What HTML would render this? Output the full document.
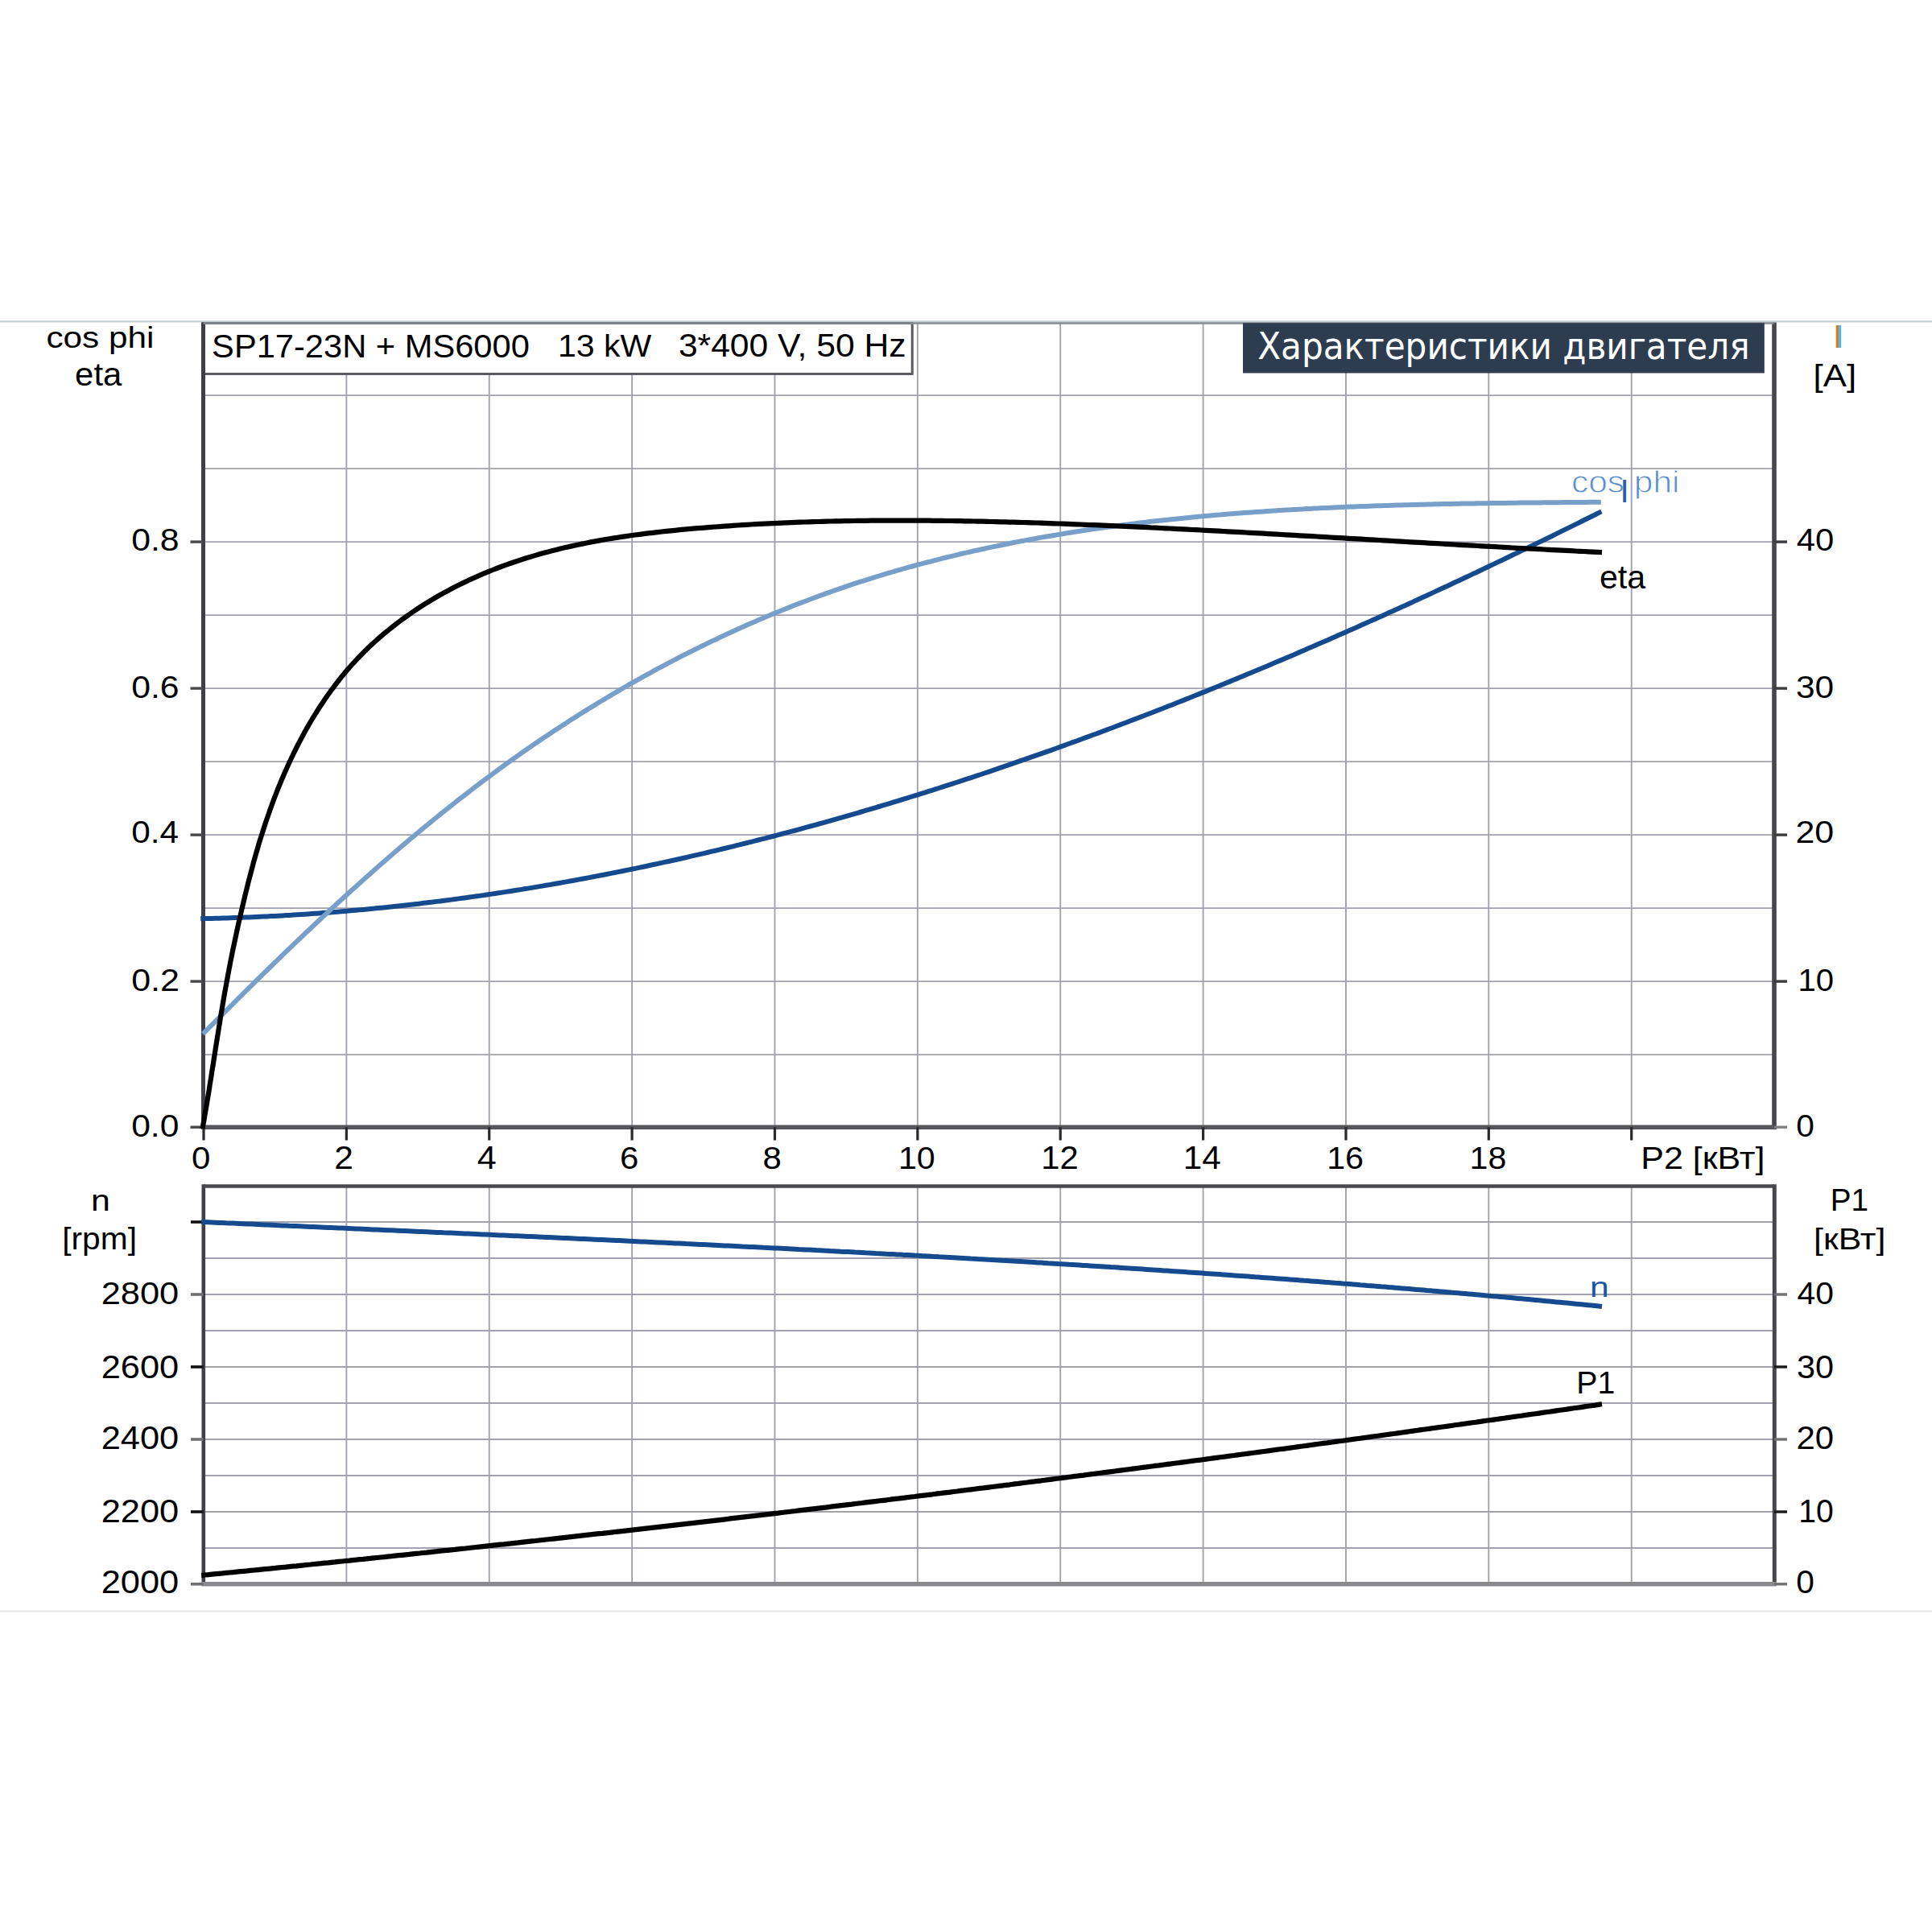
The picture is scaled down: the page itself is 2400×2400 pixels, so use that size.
<!DOCTYPE html>
<html lang="ru"><head><meta charset="utf-8"><title>Характеристики двигателя</title>
<style>
html,body{margin:0;padding:0;background:#fff;}
body{width:2400px;height:2400px;overflow:hidden;font-family:"Liberation Sans", sans-serif;}
svg{display:block;}
text{font-family:"Liberation Sans", sans-serif;}
text.dj{font-family:"DejaVu Sans Condensed", "DejaVu Sans", "Liberation Sans", sans-serif;}
</style></head><body>
<svg width="2400" height="2400" viewBox="0 0 2400 2400">
<rect x="0" y="398.3" width="2400" height="2.2" fill="#c5cdd1"/>
<rect x="0" y="2000.5" width="2400" height="2" fill="#e3e5e6"/>
<line x1="430.37" y1="401.50" x2="430.37" y2="1400.20" stroke="#a1a2ae" stroke-width="1.9" />
<line x1="607.74" y1="401.50" x2="607.74" y2="1400.20" stroke="#a1a2ae" stroke-width="1.9" />
<line x1="785.11" y1="401.50" x2="785.11" y2="1400.20" stroke="#a1a2ae" stroke-width="1.9" />
<line x1="962.48" y1="401.50" x2="962.48" y2="1400.20" stroke="#a1a2ae" stroke-width="1.9" />
<line x1="1139.85" y1="401.50" x2="1139.85" y2="1400.20" stroke="#a1a2ae" stroke-width="1.9" />
<line x1="1317.22" y1="401.50" x2="1317.22" y2="1400.20" stroke="#a1a2ae" stroke-width="1.9" />
<line x1="1494.59" y1="401.50" x2="1494.59" y2="1400.20" stroke="#a1a2ae" stroke-width="1.9" />
<line x1="1671.96" y1="401.50" x2="1671.96" y2="1400.20" stroke="#a1a2ae" stroke-width="1.9" />
<line x1="1849.33" y1="401.50" x2="1849.33" y2="1400.20" stroke="#a1a2ae" stroke-width="1.9" />
<line x1="2026.70" y1="401.50" x2="2026.70" y2="1400.20" stroke="#a1a2ae" stroke-width="1.9" />
<line x1="252.50" y1="1310.10" x2="2204.00" y2="1310.10" stroke="#a1a2ae" stroke-width="1.9" />
<line x1="252.50" y1="1219.10" x2="2204.00" y2="1219.10" stroke="#a1a2ae" stroke-width="1.9" />
<line x1="252.50" y1="1128.10" x2="2204.00" y2="1128.10" stroke="#a1a2ae" stroke-width="1.9" />
<line x1="252.50" y1="1037.10" x2="2204.00" y2="1037.10" stroke="#a1a2ae" stroke-width="1.9" />
<line x1="252.50" y1="946.10" x2="2204.00" y2="946.10" stroke="#a1a2ae" stroke-width="1.9" />
<line x1="252.50" y1="855.10" x2="2204.00" y2="855.10" stroke="#a1a2ae" stroke-width="1.9" />
<line x1="252.50" y1="764.10" x2="2204.00" y2="764.10" stroke="#a1a2ae" stroke-width="1.9" />
<line x1="252.50" y1="673.10" x2="2204.00" y2="673.10" stroke="#a1a2ae" stroke-width="1.9" />
<line x1="252.50" y1="582.10" x2="2204.00" y2="582.10" stroke="#a1a2ae" stroke-width="1.9" />
<line x1="252.50" y1="491.10" x2="2204.00" y2="491.10" stroke="#a1a2ae" stroke-width="1.9" />
<line x1="430.37" y1="1473.50" x2="430.37" y2="1967.80" stroke="#a1a2ae" stroke-width="1.9" />
<line x1="607.74" y1="1473.50" x2="607.74" y2="1967.80" stroke="#a1a2ae" stroke-width="1.9" />
<line x1="785.11" y1="1473.50" x2="785.11" y2="1967.80" stroke="#a1a2ae" stroke-width="1.9" />
<line x1="962.48" y1="1473.50" x2="962.48" y2="1967.80" stroke="#a1a2ae" stroke-width="1.9" />
<line x1="1139.85" y1="1473.50" x2="1139.85" y2="1967.80" stroke="#a1a2ae" stroke-width="1.9" />
<line x1="1317.22" y1="1473.50" x2="1317.22" y2="1967.80" stroke="#a1a2ae" stroke-width="1.9" />
<line x1="1494.59" y1="1473.50" x2="1494.59" y2="1967.80" stroke="#a1a2ae" stroke-width="1.9" />
<line x1="1671.96" y1="1473.50" x2="1671.96" y2="1967.80" stroke="#a1a2ae" stroke-width="1.9" />
<line x1="1849.33" y1="1473.50" x2="1849.33" y2="1967.80" stroke="#a1a2ae" stroke-width="1.9" />
<line x1="2026.70" y1="1473.50" x2="2026.70" y2="1967.80" stroke="#a1a2ae" stroke-width="1.9" />
<line x1="252.50" y1="1923.00" x2="2204.00" y2="1923.00" stroke="#a1a2ae" stroke-width="1.9" />
<line x1="252.50" y1="1878.00" x2="2204.00" y2="1878.00" stroke="#a1a2ae" stroke-width="1.9" />
<line x1="252.50" y1="1833.00" x2="2204.00" y2="1833.00" stroke="#a1a2ae" stroke-width="1.9" />
<line x1="252.50" y1="1788.00" x2="2204.00" y2="1788.00" stroke="#a1a2ae" stroke-width="1.9" />
<line x1="252.50" y1="1743.00" x2="2204.00" y2="1743.00" stroke="#a1a2ae" stroke-width="1.9" />
<line x1="252.50" y1="1698.00" x2="2204.00" y2="1698.00" stroke="#a1a2ae" stroke-width="1.9" />
<line x1="252.50" y1="1653.00" x2="2204.00" y2="1653.00" stroke="#a1a2ae" stroke-width="1.9" />
<line x1="252.50" y1="1608.00" x2="2204.00" y2="1608.00" stroke="#a1a2ae" stroke-width="1.9" />
<line x1="252.50" y1="1563.00" x2="2204.00" y2="1563.00" stroke="#a1a2ae" stroke-width="1.9" />
<line x1="252.50" y1="1518.00" x2="2204.00" y2="1518.00" stroke="#a1a2ae" stroke-width="1.9" />
<rect x="252.5" y="401.5" width="880.7" height="63" fill="#fff" stroke="#5a5a60" stroke-width="3"/>
<line x1="252.50" y1="400.50" x2="252.50" y2="1402.90" stroke="#3f3f46" stroke-width="5" />
<line x1="2204.00" y1="400.50" x2="2204.00" y2="1402.90" stroke="#46464c" stroke-width="5.6" />
<line x1="252.50" y1="1400.20" x2="2204.00" y2="1400.20" stroke="#56565b" stroke-width="5.4" />
<line x1="252.50" y1="401.50" x2="2204.00" y2="401.50" stroke="#878a92" stroke-width="2.4" />
<rect x="1544" y="401.2" width="647.8" height="62.3" fill="#2e3c50"/>
<line x1="236.50" y1="1400.20" x2="252.50" y2="1400.20" stroke="#48484c" stroke-width="3.4" />
<line x1="2204.00" y1="1400.20" x2="2220.00" y2="1400.20" stroke="#808084" stroke-width="3.4" />
<line x1="236.50" y1="1219.10" x2="252.50" y2="1219.10" stroke="#48484c" stroke-width="3.4" />
<line x1="2204.00" y1="1219.10" x2="2220.00" y2="1219.10" stroke="#3c3c40" stroke-width="3.4" />
<line x1="236.50" y1="1037.10" x2="252.50" y2="1037.10" stroke="#48484c" stroke-width="3.4" />
<line x1="2204.00" y1="1037.10" x2="2220.00" y2="1037.10" stroke="#3c3c40" stroke-width="3.4" />
<line x1="236.50" y1="855.10" x2="252.50" y2="855.10" stroke="#48484c" stroke-width="3.4" />
<line x1="2204.00" y1="855.10" x2="2220.00" y2="855.10" stroke="#3c3c40" stroke-width="3.4" />
<line x1="236.50" y1="673.10" x2="252.50" y2="673.10" stroke="#48484c" stroke-width="3.4" />
<line x1="2204.00" y1="673.10" x2="2220.00" y2="673.10" stroke="#3c3c40" stroke-width="3.4" />
<line x1="253.00" y1="1400.20" x2="253.00" y2="1416.50" stroke="#2a2a2e" stroke-width="3.2" />
<line x1="430.37" y1="1400.20" x2="430.37" y2="1416.50" stroke="#2a2a2e" stroke-width="3.2" />
<line x1="607.74" y1="1400.20" x2="607.74" y2="1416.50" stroke="#2a2a2e" stroke-width="3.2" />
<line x1="785.11" y1="1400.20" x2="785.11" y2="1416.50" stroke="#2a2a2e" stroke-width="3.2" />
<line x1="962.48" y1="1400.20" x2="962.48" y2="1416.50" stroke="#2a2a2e" stroke-width="3.2" />
<line x1="1139.85" y1="1400.20" x2="1139.85" y2="1416.50" stroke="#2a2a2e" stroke-width="3.2" />
<line x1="1317.22" y1="1400.20" x2="1317.22" y2="1416.50" stroke="#2a2a2e" stroke-width="3.2" />
<line x1="1494.59" y1="1400.20" x2="1494.59" y2="1416.50" stroke="#2a2a2e" stroke-width="3.2" />
<line x1="1671.96" y1="1400.20" x2="1671.96" y2="1416.50" stroke="#2a2a2e" stroke-width="3.2" />
<line x1="1849.33" y1="1400.20" x2="1849.33" y2="1416.50" stroke="#2a2a2e" stroke-width="3.2" />
<line x1="2026.70" y1="1400.20" x2="2026.70" y2="1416.50" stroke="#2a2a2e" stroke-width="3.2" />
<line x1="252.80" y1="1471.30" x2="252.80" y2="1969.80" stroke="#3f3f46" stroke-width="4.6" />
<line x1="2204.30" y1="1471.30" x2="2204.30" y2="1969.80" stroke="#46464c" stroke-width="5" />
<line x1="252.50" y1="1473.50" x2="2204.00" y2="1473.50" stroke="#48484e" stroke-width="4.4" />
<line x1="250.50" y1="1967.80" x2="2206.50" y2="1967.80" stroke="#8a8a8e" stroke-width="5.6" />
<line x1="237.00" y1="1967.80" x2="252.50" y2="1967.80" stroke="#707074" stroke-width="3.6" />
<line x1="237.00" y1="1878.00" x2="252.50" y2="1878.00" stroke="#111" stroke-width="3.6" />
<line x1="237.00" y1="1788.00" x2="252.50" y2="1788.00" stroke="#707074" stroke-width="3.6" />
<line x1="237.00" y1="1698.00" x2="252.50" y2="1698.00" stroke="#111" stroke-width="3.6" />
<line x1="237.00" y1="1608.00" x2="252.50" y2="1608.00" stroke="#707074" stroke-width="3.6" />
<line x1="237.00" y1="1518.00" x2="252.50" y2="1518.00" stroke="#111" stroke-width="3.6" />
<line x1="2204.00" y1="1967.80" x2="2220.00" y2="1967.80" stroke="#707074" stroke-width="3.4" />
<line x1="2204.00" y1="1878.00" x2="2220.00" y2="1878.00" stroke="#1a1a1c" stroke-width="3.4" />
<line x1="2204.00" y1="1788.00" x2="2220.00" y2="1788.00" stroke="#707074" stroke-width="3.4" />
<line x1="2204.00" y1="1698.00" x2="2220.00" y2="1698.00" stroke="#1a1a1c" stroke-width="3.4" />
<line x1="2204.00" y1="1608.00" x2="2220.00" y2="1608.00" stroke="#707074" stroke-width="3.4" />
<path d="M249.2,1141.2 L253.9,1141.1 L258.5,1141.0 L263.1,1140.9 L267.7,1140.8 L272.3,1140.7 L276.9,1140.6 L281.5,1140.4 L286.1,1140.3 L290.8,1140.1 L295.4,1140.0 L300.0,1139.8 L304.6,1139.6 L309.2,1139.4 L313.8,1139.2 L318.4,1139.0 L323.0,1138.8 L327.6,1138.6 L332.2,1138.4 L336.8,1138.1 L341.4,1137.9 L345.9,1137.7 L350.5,1137.4 L355.1,1137.1 L359.7,1136.9 L364.3,1136.6 L368.9,1136.3 L373.5,1136.0 L378.1,1135.7 L382.7,1135.4 L387.2,1135.1 L391.8,1134.8 L396.4,1134.4 L401.0,1134.1 L405.6,1133.7 L410.1,1133.4 L414.7,1133.0 L419.3,1132.7 L423.9,1132.3 L428.4,1131.9 L433.0,1131.5 L437.6,1131.1 L442.2,1130.7 L446.7,1130.3 L451.3,1129.9 L455.9,1129.4 L460.4,1129.0 L465.0,1128.6 L469.5,1128.1 L474.1,1127.7 L478.7,1127.2 L483.2,1126.7 L487.8,1126.2 L492.3,1125.8 L496.9,1125.3 L501.5,1124.8 L506.0,1124.3 L510.6,1123.7 L515.1,1123.2 L519.7,1122.7 L524.2,1122.1 L528.8,1121.6 L533.3,1121.1 L537.8,1120.5 L542.4,1119.9 L546.9,1119.4 L551.5,1118.8 L556.0,1118.2 L560.6,1117.6 L565.1,1117.0 L569.6,1116.4 L574.2,1115.8 L578.7,1115.2 L583.2,1114.5 L587.8,1113.9 L592.3,1113.3 L596.8,1112.6 L601.4,1112.0 L605.9,1111.3 L610.4,1110.6 L614.9,1110.0 L619.5,1109.3 L624.0,1108.6 L628.5,1107.9 L633.0,1107.2 L637.5,1106.5 L642.1,1105.8 L646.6,1105.1 L651.1,1104.3 L655.6,1103.6 L660.1,1102.9 L664.6,1102.1 L669.1,1101.4 L673.6,1100.6 L678.2,1099.8 L682.7,1099.1 L687.2,1098.3 L691.7,1097.5 L696.2,1096.7 L700.7,1095.9 L705.2,1095.1 L709.7,1094.3 L714.2,1093.5 L718.7,1092.6 L723.2,1091.8 L727.7,1091.0 L732.2,1090.1 L736.6,1089.3 L741.1,1088.4 L745.6,1087.5 L750.1,1086.7 L754.6,1085.8 L759.1,1084.9 L763.6,1084.0 L768.0,1083.1 L772.5,1082.2 L777.0,1081.3 L781.5,1080.4 L786.0,1079.5 L790.4,1078.6 L794.9,1077.6 L799.4,1076.7 L803.9,1075.7 L808.3,1074.8 L812.8,1073.8 L817.3,1072.9 L821.7,1071.9 L826.2,1070.9 L830.7,1070.0 L835.1,1069.0 L839.6,1068.0 L844.1,1067.0 L848.5,1066.0 L853.0,1065.0 L857.4,1063.9 L861.9,1062.9 L866.4,1061.9 L870.8,1060.9 L875.3,1059.8 L879.7,1058.8 L884.2,1057.7 L888.6,1056.7 L893.1,1055.6 L897.5,1054.5 L901.9,1053.5 L906.4,1052.4 L910.8,1051.3 L915.3,1050.2 L919.7,1049.1 L924.2,1048.0 L928.6,1046.9 L933.0,1045.8 L937.5,1044.7 L941.9,1043.5 L946.3,1042.4 L950.8,1041.3 L955.2,1040.1 L959.6,1039.0 L964.0,1037.8 L968.5,1036.7 L972.9,1035.5 L977.3,1034.3 L981.7,1033.1 L986.2,1032.0 L990.6,1030.8 L995.0,1029.6 L999.4,1028.4 L1003.8,1027.2 L1008.2,1026.0 L1012.6,1024.8 L1017.1,1023.5 L1021.5,1022.3 L1025.9,1021.1 L1030.3,1019.9 L1034.7,1018.6 L1039.1,1017.4 L1043.5,1016.1 L1047.9,1014.9 L1052.3,1013.6 L1056.7,1012.3 L1061.1,1011.1 L1065.5,1009.8 L1069.9,1008.5 L1074.3,1007.2 L1078.7,1005.9 L1083.1,1004.6 L1087.4,1003.3 L1091.8,1002.0 L1096.2,1000.7 L1100.6,999.4 L1105.0,998.1 L1109.4,996.7 L1113.8,995.4 L1118.1,994.1 L1122.5,992.7 L1126.9,991.4 L1131.3,990.0 L1135.6,988.7 L1140.0,987.3 L1144.4,985.9 L1148.8,984.6 L1153.1,983.2 L1157.5,981.8 L1161.9,980.4 L1166.2,979.0 L1170.6,977.6 L1174.9,976.2 L1179.3,974.8 L1183.7,973.4 L1188.0,972.0 L1192.4,970.6 L1196.7,969.2 L1201.1,967.7 L1205.4,966.3 L1209.8,964.9 L1214.1,963.4 L1218.5,962.0 L1222.8,960.5 L1227.2,959.1 L1231.5,957.6 L1235.9,956.1 L1240.2,954.7 L1244.5,953.2 L1248.9,951.7 L1253.2,950.2 L1257.6,948.7 L1261.9,947.2 L1266.2,945.7 L1270.6,944.2 L1274.9,942.7 L1279.2,941.2 L1283.5,939.7 L1287.9,938.2 L1292.2,936.7 L1296.5,935.1 L1300.8,933.6 L1305.2,932.1 L1309.5,930.5 L1313.8,929.0 L1318.1,927.4 L1322.4,925.9 L1326.7,924.3 L1331.0,922.7 L1335.4,921.2 L1339.7,919.6 L1344.0,918.0 L1348.3,916.4 L1352.6,914.9 L1356.9,913.3 L1361.2,911.7 L1365.5,910.1 L1369.8,908.5 L1374.1,906.9 L1378.4,905.3 L1382.7,903.7 L1387.0,902.0 L1391.3,900.4 L1395.6,898.8 L1399.8,897.2 L1404.1,895.5 L1408.4,893.9 L1412.7,892.3 L1417.0,890.6 L1421.3,889.0 L1425.5,887.3 L1429.8,885.7 L1434.1,884.0 L1438.4,882.3 L1442.6,880.7 L1446.9,879.0 L1451.2,877.3 L1455.5,875.7 L1459.7,874.0 L1464.0,872.3 L1468.3,870.6 L1472.5,868.9 L1476.8,867.2 L1481.0,865.5 L1485.3,863.8 L1489.6,862.1 L1493.8,860.4 L1498.1,858.7 L1502.3,856.9 L1506.6,855.2 L1510.8,853.5 L1515.1,851.8 L1519.3,850.0 L1523.6,848.3 L1527.8,846.6 L1532.1,844.8 L1536.3,843.1 L1540.5,841.3 L1544.8,839.6 L1549.0,837.8 L1553.3,836.0 L1557.5,834.3 L1561.7,832.5 L1566.0,830.7 L1570.2,829.0 L1574.4,827.2 L1578.6,825.4 L1582.9,823.6 L1587.1,821.8 L1591.3,820.1 L1595.5,818.3 L1599.7,816.5 L1604.0,814.7 L1608.2,812.9 L1612.4,811.1 L1616.6,809.2 L1620.8,807.4 L1625.0,805.6 L1629.2,803.8 L1633.4,802.0 L1637.6,800.1 L1641.9,798.3 L1646.1,796.5 L1650.3,794.7 L1654.5,792.8 L1658.7,791.0 L1662.9,789.1 L1667.0,787.3 L1671.2,785.4 L1675.4,783.6 L1679.6,781.7 L1683.8,779.9 L1688.0,778.0 L1692.2,776.1 L1696.4,774.3 L1700.5,772.4 L1704.7,770.5 L1708.9,768.7 L1713.1,766.8 L1717.3,764.9 L1721.4,763.0 L1725.6,761.1 L1729.8,759.2 L1734.0,757.3 L1738.1,755.5 L1742.3,753.6 L1746.5,751.7 L1750.6,749.8 L1754.8,747.9 L1758.9,745.9 L1763.1,744.0 L1767.3,742.1 L1771.4,740.2 L1775.6,738.3 L1779.7,736.4 L1783.9,734.4 L1788.0,732.5 L1792.2,730.6 L1796.3,728.7 L1800.5,726.7 L1804.6,724.8 L1808.7,722.8 L1812.9,720.9 L1817.0,719.0 L1821.2,717.0 L1825.3,715.1 L1829.4,713.1 L1833.6,711.2 L1837.7,709.2 L1841.8,707.3 L1846.0,705.3 L1850.1,703.3 L1854.2,701.4 L1858.3,699.4 L1862.4,697.4 L1866.6,695.5 L1870.7,693.5 L1874.8,691.5 L1878.9,689.5 L1883.0,687.6 L1887.1,685.6 L1891.2,683.6 L1895.4,681.6 L1899.5,679.6 L1903.6,677.6 L1907.7,675.6 L1911.8,673.6 L1915.9,671.7 L1920.0,669.7 L1924.1,667.7 L1928.2,665.7 L1932.3,663.6 L1936.4,661.6 L1940.4,659.6 L1944.5,657.6 L1948.6,655.6 L1952.7,653.6 L1956.8,651.6 L1960.9,649.6 L1965.0,647.5 L1969.0,645.5 L1973.1,643.5 L1977.2,641.5 L1981.3,639.5 L1985.3,637.4 L1989.4,635.4" fill="none" stroke="#164a8e" stroke-width="6.0" stroke-linejoin="round" stroke-linecap="butt"/>
<path d="M252.1,1284.3 L255.5,1280.9 L258.9,1277.5 L262.2,1274.1 L265.6,1270.8 L269.0,1267.4 L272.4,1264.0 L275.8,1260.6 L279.2,1257.2 L282.6,1253.8 L286.0,1250.4 L289.4,1247.0 L292.8,1243.6 L296.2,1240.2 L299.6,1236.8 L303.0,1233.4 L306.4,1230.0 L309.9,1226.7 L313.3,1223.3 L316.7,1219.9 L320.2,1216.5 L323.6,1213.1 L327.1,1209.7 L330.5,1206.4 L334.0,1203.0 L337.4,1199.6 L340.9,1196.2 L344.4,1192.9 L347.9,1189.5 L351.3,1186.1 L354.8,1182.8 L358.3,1179.4 L361.8,1176.1 L365.3,1172.7 L368.8,1169.4 L372.3,1166.0 L375.8,1162.7 L379.3,1159.3 L382.9,1156.0 L386.4,1152.7 L389.9,1149.3 L393.5,1146.0 L397.0,1142.7 L400.6,1139.4 L404.1,1136.1 L407.7,1132.7 L411.2,1129.4 L414.8,1126.1 L418.4,1122.8 L422.0,1119.6 L425.5,1116.3 L429.1,1113.0 L432.7,1109.7 L436.3,1106.4 L439.9,1103.2 L443.6,1099.9 L447.2,1096.7 L450.8,1093.4 L454.4,1090.2 L458.1,1087.0 L461.7,1083.7 L465.4,1080.5 L469.0,1077.3 L472.7,1074.1 L476.3,1070.9 L480.0,1067.7 L483.7,1064.5 L487.4,1061.3 L491.1,1058.1 L494.7,1055.0 L498.4,1051.8 L502.2,1048.6 L505.9,1045.5 L509.6,1042.3 L513.3,1039.2 L517.1,1036.1 L520.8,1033.0 L524.5,1029.9 L528.3,1026.8 L532.0,1023.7 L535.8,1020.6 L539.6,1017.5 L543.4,1014.5 L547.2,1011.4 L550.9,1008.3 L554.7,1005.3 L558.5,1002.3 L562.4,999.3 L566.2,996.2 L570.0,993.2 L573.8,990.3 L577.7,987.3 L581.5,984.3 L585.4,981.3 L589.2,978.4 L593.1,975.4 L597.0,972.5 L600.9,969.6 L604.8,966.7 L608.7,963.8 L612.6,960.9 L616.5,958.0 L620.4,955.1 L624.3,952.3 L628.3,949.4 L632.2,946.6 L636.1,943.8 L640.1,940.9 L644.1,938.1 L648.0,935.3 L652.0,932.6 L656.0,929.8 L660.0,927.0 L664.0,924.3 L668.0,921.5 L672.0,918.8 L676.0,916.1 L680.1,913.4 L684.1,910.7 L688.1,908.0 L692.2,905.4 L696.2,902.7 L700.3,900.1 L704.4,897.4 L708.4,894.8 L712.5,892.2 L716.6,889.6 L720.7,887.0 L724.8,884.4 L728.9,881.9 L733.0,879.3 L737.2,876.8 L741.3,874.3 L745.4,871.8 L749.6,869.3 L753.7,866.8 L757.9,864.3 L762.0,861.8 L766.2,859.4 L770.4,856.9 L774.6,854.5 L778.7,852.1 L782.9,849.7 L787.1,847.3 L791.4,844.9 L795.6,842.6 L799.8,840.2 L804.0,837.9 L808.3,835.6 L812.5,833.2 L816.7,830.9 L821.0,828.7 L825.3,826.4 L829.5,824.1 L833.8,821.9 L838.1,819.6 L842.4,817.4 L846.6,815.2 L850.9,813.0 L855.2,810.8 L859.6,808.7 L863.9,806.5 L868.2,804.4 L872.5,802.2 L876.9,800.1 L881.2,798.0 L885.5,795.9 L889.9,793.9 L894.3,791.8 L898.6,789.8 L903.0,787.7 L907.4,785.7 L911.7,783.7 L916.1,781.7 L920.5,779.8 L924.9,777.8 L929.3,775.8 L933.7,773.9 L938.2,772.0 L942.6,770.1 L947.0,768.2 L951.4,766.3 L955.9,764.5 L960.3,762.6 L964.8,760.8 L969.2,759.0 L973.7,757.2 L978.2,755.4 L982.6,753.6 L987.1,751.8 L991.6,750.1 L996.1,748.4 L1000.6,746.7 L1005.1,745.0 L1009.6,743.3 L1014.1,741.6 L1018.6,739.9 L1023.2,738.3 L1027.7,736.7 L1032.2,735.1 L1036.8,733.5 L1041.3,731.9 L1045.9,730.3 L1050.4,728.8 L1055.0,727.2 L1059.6,725.7 L1064.1,724.2 L1068.7,722.7 L1073.3,721.3 L1077.9,719.8 L1082.5,718.4 L1087.1,716.9 L1091.7,715.5 L1096.3,714.1 L1100.9,712.7 L1105.5,711.4 L1110.1,710.0 L1114.8,708.7 L1119.4,707.4 L1124.0,706.0 L1128.7,704.7 L1133.3,703.5 L1138.0,702.2 L1142.6,700.9 L1147.3,699.7 L1151.9,698.5 L1156.6,697.3 L1161.3,696.1 L1166.0,694.9 L1170.6,693.7 L1175.3,692.5 L1180.0,691.4 L1184.7,690.3 L1189.4,689.1 L1194.1,688.0 L1198.8,686.9 L1203.5,685.8 L1208.2,684.8 L1212.9,683.7 L1217.7,682.7 L1222.4,681.7 L1227.1,680.6 L1231.8,679.6 L1236.6,678.6 L1241.3,677.7 L1246.0,676.7 L1250.8,675.7 L1255.5,674.8 L1260.3,673.8 L1265.0,672.9 L1269.8,672.0 L1274.6,671.1 L1279.3,670.2 L1284.1,669.4 L1288.9,668.5 L1293.6,667.6 L1298.4,666.8 L1303.2,666.0 L1308.0,665.2 L1312.8,664.4 L1317.5,663.6 L1322.3,662.8 L1327.1,662.0 L1331.9,661.2 L1336.7,660.5 L1341.5,659.7 L1346.3,659.0 L1351.1,658.3 L1355.9,657.6 L1360.7,656.9 L1365.6,656.2 L1370.4,655.5 L1375.2,654.8 L1380.0,654.2 L1384.8,653.5 L1389.6,652.9 L1394.5,652.3 L1399.3,651.6 L1404.1,651.0 L1409.0,650.4 L1413.8,649.8 L1418.6,649.2 L1423.5,648.7 L1428.3,648.1 L1433.1,647.6 L1438.0,647.0 L1442.8,646.5 L1447.7,645.9 L1452.5,645.4 L1457.4,644.9 L1462.2,644.4 L1467.1,643.9 L1471.9,643.4 L1476.8,642.9 L1481.6,642.5 L1486.5,642.0 L1491.3,641.6 L1496.2,641.1 L1501.0,640.7 L1505.9,640.3 L1510.8,639.8 L1515.6,639.4 L1520.5,639.0 L1525.3,638.6 L1530.2,638.2 L1535.1,637.8 L1539.9,637.5 L1544.8,637.1 L1549.7,636.7 L1554.5,636.4 L1559.4,636.0 L1564.3,635.7 L1569.1,635.4 L1574.0,635.0 L1578.9,634.7 L1583.7,634.4 L1588.6,634.1 L1593.5,633.8 L1598.3,633.5 L1603.2,633.2 L1608.1,632.9 L1612.9,632.7 L1617.8,632.4 L1622.7,632.1 L1627.6,631.9 L1632.4,631.6 L1637.3,631.4 L1642.2,631.1 L1647.0,630.9 L1651.9,630.7 L1656.8,630.5 L1661.6,630.2 L1666.5,630.0 L1671.4,629.8 L1676.2,629.6 L1681.1,629.4 L1685.9,629.2 L1690.8,629.0 L1695.7,628.9 L1700.5,628.7 L1705.4,628.5 L1710.2,628.3 L1715.1,628.2 L1720.0,628.0 L1724.8,627.9 L1729.7,627.7 L1734.5,627.6 L1739.4,627.4 L1744.2,627.3 L1749.1,627.2 L1753.9,627.0 L1758.8,626.9 L1763.6,626.8 L1768.4,626.7 L1773.3,626.5 L1778.1,626.4 L1783.0,626.3 L1787.8,626.2 L1792.6,626.1 L1797.5,626.0 L1802.3,625.9 L1807.1,625.8 L1812.0,625.7 L1816.8,625.6 L1821.6,625.6 L1826.4,625.5 L1831.2,625.4 L1836.1,625.3 L1840.9,625.3 L1845.7,625.2 L1850.5,625.1 L1855.3,625.0 L1860.1,625.0 L1864.9,624.9 L1869.7,624.9 L1874.5,624.8 L1879.3,624.7 L1884.1,624.7 L1888.9,624.6 L1893.7,624.6 L1898.5,624.5 L1903.3,624.5 L1908.0,624.4 L1912.8,624.4 L1917.6,624.3 L1922.4,624.3 L1927.1,624.2 L1931.9,624.2 L1936.6,624.2 L1941.4,624.1 L1946.2,624.1 L1950.9,624.0 L1955.7,624.0 L1960.4,624.0 L1965.1,623.9 L1969.9,623.9 L1974.6,623.8 L1979.3,623.8 L1984.1,623.8 L1988.8,623.7" fill="none" stroke="#789fc9" stroke-width="6.0" stroke-linejoin="round" stroke-linecap="butt"/>
<path d="M251.5,1402.0 L252.5,1396.5 L253.5,1391.1 L254.4,1385.6 L255.3,1380.2 L256.3,1374.7 L257.2,1369.3 L258.1,1363.8 L259.0,1358.3 L259.9,1352.9 L260.7,1347.4 L261.6,1341.9 L262.5,1336.4 L263.3,1331.0 L264.2,1325.5 L265.1,1320.0 L265.9,1314.5 L266.8,1309.1 L267.6,1303.6 L268.5,1298.1 L269.4,1292.6 L270.2,1287.2 L271.1,1281.7 L272.0,1276.2 L272.9,1270.7 L273.7,1265.2 L274.6,1259.8 L275.6,1254.3 L276.5,1248.8 L277.4,1243.4 L278.3,1237.9 L279.3,1232.4 L280.3,1227.0 L281.3,1221.5 L282.3,1216.1 L283.3,1210.6 L284.3,1205.2 L285.4,1199.7 L286.4,1194.3 L287.5,1188.8 L288.6,1183.4 L289.7,1178.0 L290.9,1172.5 L292.0,1167.1 L293.2,1161.7 L294.3,1156.3 L295.5,1150.9 L296.7,1145.4 L298.0,1140.1 L299.2,1134.7 L300.4,1129.3 L301.7,1123.9 L303.0,1118.5 L304.2,1113.1 L305.6,1107.8 L306.9,1102.4 L308.2,1097.1 L309.6,1091.7 L311.0,1086.4 L312.4,1081.1 L313.8,1075.7 L315.2,1070.4 L316.7,1065.1 L318.2,1059.8 L319.8,1054.5 L321.3,1049.2 L322.9,1043.9 L324.6,1038.6 L326.3,1033.3 L328.0,1028.0 L329.7,1022.7 L331.5,1017.4 L333.3,1012.2 L335.1,1006.9 L337.0,1001.7 L338.9,996.5 L340.9,991.2 L342.9,986.0 L344.9,980.8 L347.0,975.7 L349.1,970.5 L351.3,965.4 L353.5,960.3 L355.8,955.2 L358.1,950.1 L360.4,945.0 L362.8,940.0 L365.2,935.0 L367.7,930.0 L370.2,925.0 L372.8,920.1 L375.4,915.2 L378.0,910.3 L380.7,905.4 L383.5,900.6 L386.3,895.8 L389.2,891.0 L392.1,886.3 L395.0,881.6 L398.0,877.0 L401.1,872.4 L404.2,867.8 L407.4,863.2 L410.6,858.7 L413.9,854.3 L417.2,849.8 L420.6,845.5 L424.0,841.1 L427.5,836.9 L431.1,832.6 L434.7,828.5 L438.4,824.3 L442.1,820.3 L445.9,816.3 L449.8,812.3 L453.7,808.4 L457.7,804.6 L461.7,800.8 L465.8,797.0 L469.9,793.4 L474.1,789.7 L478.3,786.2 L482.6,782.6 L486.9,779.2 L491.3,775.8 L495.7,772.4 L500.1,769.1 L504.6,765.9 L509.2,762.7 L513.8,759.5 L518.4,756.4 L523.0,753.4 L527.7,750.4 L532.5,747.5 L537.2,744.6 L542.0,741.8 L546.8,739.0 L551.7,736.3 L556.6,733.7 L561.5,731.1 L566.4,728.5 L571.4,726.0 L576.4,723.6 L581.4,721.2 L586.5,718.9 L591.5,716.6 L596.6,714.4 L601.7,712.2 L606.8,710.1 L612.0,708.0 L617.1,706.0 L622.3,704.0 L627.5,702.1 L632.7,700.3 L637.9,698.5 L643.2,696.7 L648.4,695.0 L653.7,693.3 L659.0,691.7 L664.3,690.1 L669.6,688.6 L674.9,687.1 L680.2,685.7 L685.5,684.3 L690.9,682.9 L696.3,681.6 L701.6,680.3 L707.0,679.1 L712.4,677.9 L717.8,676.7 L723.2,675.6 L728.7,674.5 L734.1,673.4 L739.6,672.4 L745.0,671.4 L750.5,670.4 L755.9,669.5 L761.4,668.6 L766.9,667.7 L772.4,666.9 L777.9,666.1 L783.4,665.3 L788.9,664.5 L794.4,663.8 L799.9,663.1 L805.4,662.4 L810.9,661.8 L816.5,661.1 L822.0,660.5 L827.5,659.9 L833.0,659.3 L838.6,658.8 L844.1,658.2 L849.7,657.7 L855.2,657.2 L860.7,656.7 L866.3,656.2 L871.8,655.8 L877.4,655.3 L882.9,654.9 L888.5,654.5 L894.0,654.1 L899.5,653.7 L905.1,653.3 L910.6,652.9 L916.2,652.5 L921.7,652.2 L927.2,651.9 L932.8,651.5 L938.3,651.2 L943.8,650.9 L949.4,650.6 L954.9,650.3 L960.5,650.1 L966.0,649.8 L971.5,649.6 L977.1,649.3 L982.6,649.1 L988.1,648.9 L993.7,648.7 L999.2,648.5 L1004.7,648.3 L1010.3,648.1 L1015.8,648.0 L1021.3,647.8 L1026.9,647.7 L1032.4,647.5 L1037.9,647.4 L1043.5,647.3 L1049.0,647.2 L1054.6,647.1 L1060.1,647.0 L1065.6,646.9 L1071.2,646.8 L1076.7,646.8 L1082.2,646.7 L1087.8,646.7 L1093.3,646.6 L1098.8,646.6 L1104.4,646.6 L1109.9,646.6 L1115.4,646.6 L1121.0,646.6 L1126.5,646.6 L1132.0,646.6 L1137.6,646.6 L1143.1,646.6 L1148.6,646.7 L1154.2,646.7 L1159.7,646.8 L1165.2,646.8 L1170.8,646.9 L1176.3,647.0 L1181.8,647.0 L1187.4,647.1 L1192.9,647.2 L1198.5,647.3 L1204.0,647.4 L1209.5,647.5 L1215.1,647.6 L1220.6,647.7 L1226.1,647.9 L1231.7,648.0 L1237.2,648.1 L1242.8,648.3 L1248.3,648.4 L1253.8,648.6 L1259.4,648.7 L1264.9,648.9 L1270.4,649.0 L1276.0,649.2 L1281.5,649.4 L1287.1,649.5 L1292.6,649.7 L1298.1,649.9 L1303.7,650.1 L1309.2,650.3 L1314.8,650.5 L1320.3,650.7 L1325.8,650.9 L1331.4,651.1 L1336.9,651.3 L1342.5,651.5 L1348.0,651.8 L1353.6,652.0 L1359.1,652.2 L1364.6,652.4 L1370.2,652.7 L1375.7,652.9 L1381.3,653.2 L1386.8,653.4 L1392.3,653.6 L1397.9,653.9 L1403.4,654.1 L1409.0,654.4 L1414.5,654.7 L1420.0,654.9 L1425.6,655.2 L1431.1,655.5 L1436.7,655.7 L1442.2,656.0 L1447.7,656.3 L1453.3,656.5 L1458.8,656.8 L1464.3,657.1 L1469.9,657.4 L1475.4,657.7 L1481.0,658.0 L1486.5,658.2 L1492.0,658.5 L1497.6,658.8 L1503.1,659.1 L1508.6,659.4 L1514.2,659.7 L1519.7,660.0 L1525.2,660.3 L1530.8,660.6 L1536.3,660.9 L1541.9,661.2 L1547.4,661.5 L1552.9,661.8 L1558.5,662.1 L1564.0,662.4 L1569.5,662.7 L1575.1,663.1 L1580.6,663.4 L1586.1,663.7 L1591.7,664.0 L1597.2,664.3 L1602.7,664.6 L1608.2,664.9 L1613.8,665.3 L1619.3,665.6 L1624.8,665.9 L1630.4,666.2 L1635.9,666.5 L1641.4,666.8 L1647.0,667.2 L1652.5,667.5 L1658.0,667.8 L1663.6,668.1 L1669.1,668.4 L1674.6,668.8 L1680.1,669.1 L1685.7,669.4 L1691.2,669.7 L1696.7,670.1 L1702.3,670.4 L1707.8,670.7 L1713.3,671.0 L1718.9,671.3 L1724.4,671.7 L1729.9,672.0 L1735.5,672.3 L1741.0,672.6 L1746.5,673.0 L1752.0,673.3 L1757.6,673.6 L1763.1,673.9 L1768.6,674.2 L1774.2,674.6 L1779.7,674.9 L1785.2,675.2 L1790.8,675.5 L1796.3,675.8 L1801.8,676.1 L1807.4,676.5 L1812.9,676.8 L1818.4,677.1 L1824.0,677.4 L1829.5,677.7 L1835.0,678.0 L1840.5,678.3 L1846.1,678.6 L1851.6,678.9 L1857.1,679.2 L1862.7,679.5 L1868.2,679.8 L1873.7,680.2 L1879.3,680.5 L1884.8,680.8 L1890.4,681.0 L1895.9,681.3 L1901.4,681.6 L1907.0,681.9 L1912.5,682.2 L1918.0,682.5 L1923.6,682.8 L1929.1,683.1 L1934.6,683.4 L1940.2,683.7 L1945.7,683.9 L1951.3,684.2 L1956.8,684.5 L1962.3,684.8 L1967.9,685.0 L1973.4,685.3 L1978.9,685.6 L1984.5,685.8 L1990.0,686.1" fill="none" stroke="#000" stroke-width="6.2" stroke-linejoin="round" stroke-linecap="butt"/>
<path d="M250.2,1517.9 L254.6,1518.1 L258.9,1518.3 L263.3,1518.5 L267.7,1518.7 L272.0,1518.9 L276.4,1519.1 L280.8,1519.3 L285.1,1519.4 L289.5,1519.6 L293.8,1519.8 L298.2,1520.0 L302.6,1520.2 L306.9,1520.4 L311.3,1520.6 L315.7,1520.8 L320.0,1521.0 L324.4,1521.2 L328.8,1521.4 L333.1,1521.6 L337.5,1521.8 L341.9,1522.0 L346.2,1522.2 L350.6,1522.4 L354.9,1522.6 L359.3,1522.8 L363.7,1522.9 L368.0,1523.1 L372.4,1523.3 L376.8,1523.5 L381.1,1523.7 L385.5,1523.9 L389.9,1524.1 L394.2,1524.3 L398.6,1524.5 L403.0,1524.7 L407.3,1524.9 L411.7,1525.1 L416.0,1525.3 L420.4,1525.5 L424.8,1525.6 L429.1,1525.8 L433.5,1526.0 L437.9,1526.2 L442.2,1526.4 L446.6,1526.6 L451.0,1526.8 L455.3,1527.0 L459.7,1527.2 L464.1,1527.4 L468.4,1527.6 L472.8,1527.8 L477.1,1528.0 L481.5,1528.2 L485.9,1528.3 L490.2,1528.5 L494.6,1528.7 L499.0,1528.9 L503.3,1529.1 L507.7,1529.3 L512.1,1529.5 L516.4,1529.7 L520.8,1529.9 L525.2,1530.1 L529.5,1530.3 L533.9,1530.5 L538.3,1530.7 L542.6,1530.9 L547.0,1531.1 L551.3,1531.3 L555.7,1531.4 L560.1,1531.6 L564.4,1531.8 L568.8,1532.0 L573.2,1532.2 L577.5,1532.4 L581.9,1532.6 L586.3,1532.8 L590.6,1533.0 L595.0,1533.2 L599.4,1533.4 L603.7,1533.6 L608.1,1533.8 L612.4,1534.0 L616.8,1534.2 L621.2,1534.4 L625.5,1534.6 L629.9,1534.8 L634.3,1535.0 L638.6,1535.2 L643.0,1535.3 L647.4,1535.5 L651.7,1535.7 L656.1,1535.9 L660.5,1536.1 L664.8,1536.3 L669.2,1536.5 L673.6,1536.7 L677.9,1536.9 L682.3,1537.1 L686.6,1537.3 L691.0,1537.5 L695.4,1537.7 L699.7,1537.9 L704.1,1538.1 L708.5,1538.3 L712.8,1538.5 L717.2,1538.7 L721.6,1538.9 L725.9,1539.1 L730.3,1539.3 L734.7,1539.5 L739.0,1539.7 L743.4,1539.9 L747.7,1540.1 L752.1,1540.3 L756.5,1540.5 L760.8,1540.7 L765.2,1540.9 L769.6,1541.1 L773.9,1541.3 L778.3,1541.5 L782.7,1541.8 L787.0,1542.0 L791.4,1542.2 L795.8,1542.4 L800.1,1542.6 L804.5,1542.8 L808.8,1543.0 L813.2,1543.2 L817.6,1543.4 L821.9,1543.6 L826.3,1543.8 L830.7,1544.0 L835.0,1544.2 L839.4,1544.4 L843.8,1544.6 L848.1,1544.8 L852.5,1545.1 L856.9,1545.3 L861.2,1545.5 L865.6,1545.7 L869.9,1545.9 L874.3,1546.1 L878.7,1546.3 L883.0,1546.5 L887.4,1546.7 L891.8,1547.0 L896.1,1547.2 L900.5,1547.4 L904.9,1547.6 L909.2,1547.8 L913.6,1548.0 L917.9,1548.2 L922.3,1548.5 L926.7,1548.7 L931.0,1548.9 L935.4,1549.1 L939.8,1549.3 L944.1,1549.5 L948.5,1549.8 L952.9,1550.0 L957.2,1550.2 L961.6,1550.4 L965.9,1550.6 L970.3,1550.8 L974.7,1551.1 L979.0,1551.3 L983.4,1551.5 L987.8,1551.7 L992.1,1552.0 L996.5,1552.2 L1000.9,1552.4 L1005.2,1552.6 L1009.6,1552.8 L1013.9,1553.1 L1018.3,1553.3 L1022.7,1553.5 L1027.0,1553.7 L1031.4,1554.0 L1035.8,1554.2 L1040.1,1554.4 L1044.5,1554.7 L1048.9,1554.9 L1053.2,1555.1 L1057.6,1555.3 L1061.9,1555.6 L1066.3,1555.8 L1070.7,1556.0 L1075.0,1556.3 L1079.4,1556.5 L1083.8,1556.7 L1088.1,1557.0 L1092.5,1557.2 L1096.8,1557.4 L1101.2,1557.7 L1105.6,1557.9 L1109.9,1558.1 L1114.3,1558.4 L1118.7,1558.6 L1123.0,1558.9 L1127.4,1559.1 L1131.7,1559.3 L1136.1,1559.6 L1140.5,1559.8 L1144.8,1560.1 L1149.2,1560.3 L1153.6,1560.5 L1157.9,1560.8 L1162.3,1561.0 L1166.6,1561.3 L1171.0,1561.5 L1175.4,1561.8 L1179.7,1562.0 L1184.1,1562.3 L1188.4,1562.5 L1192.8,1562.7 L1197.2,1563.0 L1201.5,1563.2 L1205.9,1563.5 L1210.3,1563.7 L1214.6,1564.0 L1219.0,1564.2 L1223.3,1564.5 L1227.7,1564.8 L1232.1,1565.0 L1236.4,1565.3 L1240.8,1565.5 L1245.1,1565.8 L1249.5,1566.0 L1253.9,1566.3 L1258.2,1566.5 L1262.6,1566.8 L1267.0,1567.1 L1271.3,1567.3 L1275.7,1567.6 L1280.0,1567.8 L1284.4,1568.1 L1288.8,1568.4 L1293.1,1568.6 L1297.5,1568.9 L1301.8,1569.2 L1306.2,1569.4 L1310.6,1569.7 L1314.9,1570.0 L1319.3,1570.2 L1323.6,1570.5 L1328.0,1570.8 L1332.4,1571.0 L1336.7,1571.3 L1341.1,1571.6 L1345.4,1571.9 L1349.8,1572.1 L1354.2,1572.4 L1358.5,1572.7 L1362.9,1573.0 L1367.2,1573.2 L1371.6,1573.5 L1376.0,1573.8 L1380.3,1574.1 L1384.7,1574.3 L1389.0,1574.6 L1393.4,1574.9 L1397.8,1575.2 L1402.1,1575.5 L1406.5,1575.8 L1410.8,1576.0 L1415.2,1576.3 L1419.6,1576.6 L1423.9,1576.9 L1428.3,1577.2 L1432.6,1577.5 L1437.0,1577.8 L1441.3,1578.1 L1445.7,1578.4 L1450.1,1578.6 L1454.4,1578.9 L1458.8,1579.2 L1463.1,1579.5 L1467.5,1579.8 L1471.9,1580.1 L1476.2,1580.4 L1480.6,1580.7 L1484.9,1581.0 L1489.3,1581.3 L1493.6,1581.6 L1498.0,1581.9 L1502.4,1582.2 L1506.7,1582.5 L1511.1,1582.8 L1515.4,1583.1 L1519.8,1583.4 L1524.2,1583.8 L1528.5,1584.1 L1532.9,1584.4 L1537.2,1584.7 L1541.6,1585.0 L1545.9,1585.3 L1550.3,1585.6 L1554.7,1585.9 L1559.0,1586.3 L1563.4,1586.6 L1567.7,1586.9 L1572.1,1587.2 L1576.4,1587.5 L1580.8,1587.8 L1585.2,1588.2 L1589.5,1588.5 L1593.9,1588.8 L1598.2,1589.1 L1602.6,1589.5 L1606.9,1589.8 L1611.3,1590.1 L1615.7,1590.4 L1620.0,1590.8 L1624.4,1591.1 L1628.7,1591.4 L1633.1,1591.8 L1637.4,1592.1 L1641.8,1592.4 L1646.1,1592.8 L1650.5,1593.1 L1654.9,1593.4 L1659.2,1593.8 L1663.6,1594.1 L1667.9,1594.5 L1672.3,1594.8 L1676.6,1595.1 L1681.0,1595.5 L1685.3,1595.8 L1689.7,1596.2 L1694.1,1596.5 L1698.4,1596.9 L1702.8,1597.2 L1707.1,1597.6 L1711.5,1597.9 L1715.8,1598.3 L1720.2,1598.6 L1724.5,1599.0 L1728.9,1599.3 L1733.2,1599.7 L1737.6,1600.1 L1741.9,1600.4 L1746.3,1600.8 L1750.7,1601.1 L1755.0,1601.5 L1759.4,1601.9 L1763.7,1602.2 L1768.1,1602.6 L1772.4,1603.0 L1776.8,1603.3 L1781.1,1603.7 L1785.5,1604.1 L1789.8,1604.4 L1794.2,1604.8 L1798.5,1605.2 L1802.9,1605.6 L1807.3,1605.9 L1811.6,1606.3 L1816.0,1606.7 L1820.3,1607.1 L1824.7,1607.5 L1829.0,1607.8 L1833.4,1608.2 L1837.7,1608.6 L1842.1,1609.0 L1846.4,1609.4 L1850.8,1609.8 L1855.1,1610.2 L1859.5,1610.6 L1863.8,1610.9 L1868.2,1611.3 L1872.5,1611.7 L1876.9,1612.1 L1881.2,1612.5 L1885.6,1612.9 L1889.9,1613.3 L1894.3,1613.7 L1898.6,1614.1 L1903.0,1614.5 L1907.3,1614.9 L1911.7,1615.3 L1916.0,1615.7 L1920.4,1616.2 L1924.7,1616.6 L1929.1,1617.0 L1933.4,1617.4 L1937.8,1617.8 L1942.1,1618.2 L1946.5,1618.6 L1950.8,1619.0 L1955.2,1619.5 L1959.5,1619.9 L1963.9,1620.3 L1968.2,1620.7 L1972.6,1621.2 L1976.9,1621.6 L1981.3,1622.0 L1985.6,1622.4 L1990.0,1622.9" fill="none" stroke="#164a8e" stroke-width="6.0" stroke-linejoin="round" stroke-linecap="butt"/>
<path d="M250.2,1956.9 L254.5,1956.5 L258.9,1956.1 L263.3,1955.6 L267.7,1955.2 L272.0,1954.8 L276.4,1954.4 L280.8,1953.9 L285.1,1953.5 L289.5,1953.1 L293.9,1952.6 L298.3,1952.2 L302.6,1951.8 L307.0,1951.4 L311.4,1950.9 L315.8,1950.5 L320.1,1950.1 L324.5,1949.6 L328.9,1949.2 L333.2,1948.8 L337.6,1948.3 L342.0,1947.9 L346.4,1947.4 L350.7,1947.0 L355.1,1946.6 L359.5,1946.1 L363.8,1945.7 L368.2,1945.3 L372.6,1944.8 L377.0,1944.4 L381.3,1943.9 L385.7,1943.5 L390.1,1943.0 L394.4,1942.6 L398.8,1942.2 L403.2,1941.7 L407.6,1941.3 L411.9,1940.8 L416.3,1940.4 L420.7,1939.9 L425.0,1939.5 L429.4,1939.0 L433.8,1938.6 L438.1,1938.1 L442.5,1937.7 L446.9,1937.2 L451.3,1936.8 L455.6,1936.3 L460.0,1935.9 L464.4,1935.4 L468.7,1935.0 L473.1,1934.5 L477.5,1934.1 L481.8,1933.6 L486.2,1933.2 L490.6,1932.7 L495.0,1932.2 L499.3,1931.8 L503.7,1931.3 L508.1,1930.9 L512.4,1930.4 L516.8,1929.9 L521.2,1929.5 L525.5,1929.0 L529.9,1928.6 L534.3,1928.1 L538.6,1927.6 L543.0,1927.2 L547.4,1926.7 L551.8,1926.2 L556.1,1925.8 L560.5,1925.3 L564.9,1924.9 L569.2,1924.4 L573.6,1923.9 L578.0,1923.5 L582.3,1923.0 L586.7,1922.5 L591.1,1922.0 L595.4,1921.6 L599.8,1921.1 L604.2,1920.6 L608.5,1920.2 L612.9,1919.7 L617.3,1919.2 L621.6,1918.7 L626.0,1918.3 L630.4,1917.8 L634.7,1917.3 L639.1,1916.8 L643.5,1916.4 L647.8,1915.9 L652.2,1915.4 L656.6,1914.9 L660.9,1914.4 L665.3,1914.0 L669.7,1913.5 L674.0,1913.0 L678.4,1912.5 L682.8,1912.0 L687.1,1911.6 L691.5,1911.1 L695.9,1910.6 L700.2,1910.1 L704.6,1909.6 L709.0,1909.1 L713.3,1908.7 L717.7,1908.2 L722.1,1907.7 L726.4,1907.2 L730.8,1906.7 L735.2,1906.2 L739.5,1905.7 L743.9,1905.2 L748.3,1904.8 L752.6,1904.3 L757.0,1903.8 L761.4,1903.3 L765.7,1902.8 L770.1,1902.3 L774.5,1901.8 L778.8,1901.3 L783.2,1900.8 L787.6,1900.3 L791.9,1899.8 L796.3,1899.3 L800.7,1898.8 L805.0,1898.3 L809.4,1897.8 L813.8,1897.3 L818.1,1896.8 L822.5,1896.3 L826.8,1895.8 L831.2,1895.3 L835.6,1894.8 L839.9,1894.3 L844.3,1893.8 L848.7,1893.3 L853.0,1892.8 L857.4,1892.3 L861.8,1891.8 L866.1,1891.3 L870.5,1890.8 L874.9,1890.3 L879.2,1889.8 L883.6,1889.3 L887.9,1888.8 L892.3,1888.3 L896.7,1887.8 L901.0,1887.3 L905.4,1886.7 L909.8,1886.2 L914.1,1885.7 L918.5,1885.2 L922.9,1884.7 L927.2,1884.2 L931.6,1883.7 L935.9,1883.2 L940.3,1882.6 L944.7,1882.1 L949.0,1881.6 L953.4,1881.1 L957.8,1880.6 L962.1,1880.1 L966.5,1879.6 L970.8,1879.0 L975.2,1878.5 L979.6,1878.0 L983.9,1877.5 L988.3,1877.0 L992.7,1876.4 L997.0,1875.9 L1001.4,1875.4 L1005.7,1874.9 L1010.1,1874.3 L1014.5,1873.8 L1018.8,1873.3 L1023.2,1872.8 L1027.5,1872.3 L1031.9,1871.7 L1036.3,1871.2 L1040.6,1870.7 L1045.0,1870.1 L1049.4,1869.6 L1053.7,1869.1 L1058.1,1868.6 L1062.4,1868.0 L1066.8,1867.5 L1071.2,1867.0 L1075.5,1866.4 L1079.9,1865.9 L1084.2,1865.4 L1088.6,1864.9 L1093.0,1864.3 L1097.3,1863.8 L1101.7,1863.3 L1106.0,1862.7 L1110.4,1862.2 L1114.8,1861.7 L1119.1,1861.1 L1123.5,1860.6 L1127.9,1860.0 L1132.2,1859.5 L1136.6,1859.0 L1140.9,1858.4 L1145.3,1857.9 L1149.7,1857.4 L1154.0,1856.8 L1158.4,1856.3 L1162.7,1855.7 L1167.1,1855.2 L1171.4,1854.6 L1175.8,1854.1 L1180.2,1853.6 L1184.5,1853.0 L1188.9,1852.5 L1193.2,1851.9 L1197.6,1851.4 L1202.0,1850.8 L1206.3,1850.3 L1210.7,1849.7 L1215.0,1849.2 L1219.4,1848.7 L1223.8,1848.1 L1228.1,1847.6 L1232.5,1847.0 L1236.8,1846.5 L1241.2,1845.9 L1245.6,1845.4 L1249.9,1844.8 L1254.3,1844.3 L1258.6,1843.7 L1263.0,1843.2 L1267.3,1842.6 L1271.7,1842.0 L1276.1,1841.5 L1280.4,1840.9 L1284.8,1840.4 L1289.1,1839.8 L1293.5,1839.3 L1297.9,1838.7 L1302.2,1838.2 L1306.6,1837.6 L1310.9,1837.0 L1315.3,1836.5 L1319.6,1835.9 L1324.0,1835.4 L1328.4,1834.8 L1332.7,1834.2 L1337.1,1833.7 L1341.4,1833.1 L1345.8,1832.6 L1350.1,1832.0 L1354.5,1831.4 L1358.9,1830.9 L1363.2,1830.3 L1367.6,1829.7 L1371.9,1829.2 L1376.3,1828.6 L1380.6,1828.1 L1385.0,1827.5 L1389.4,1826.9 L1393.7,1826.4 L1398.1,1825.8 L1402.4,1825.2 L1406.8,1824.6 L1411.1,1824.1 L1415.5,1823.5 L1419.8,1822.9 L1424.2,1822.4 L1428.6,1821.8 L1432.9,1821.2 L1437.3,1820.7 L1441.6,1820.1 L1446.0,1819.5 L1450.3,1818.9 L1454.7,1818.4 L1459.0,1817.8 L1463.4,1817.2 L1467.8,1816.6 L1472.1,1816.1 L1476.5,1815.5 L1480.8,1814.9 L1485.2,1814.3 L1489.5,1813.8 L1493.9,1813.2 L1498.2,1812.6 L1502.6,1812.0 L1507.0,1811.4 L1511.3,1810.9 L1515.7,1810.3 L1520.0,1809.7 L1524.4,1809.1 L1528.7,1808.5 L1533.1,1808.0 L1537.4,1807.4 L1541.8,1806.8 L1546.1,1806.2 L1550.5,1805.6 L1554.9,1805.0 L1559.2,1804.5 L1563.6,1803.9 L1567.9,1803.3 L1572.3,1802.7 L1576.6,1802.1 L1581.0,1801.5 L1585.3,1800.9 L1589.7,1800.3 L1594.0,1799.8 L1598.4,1799.2 L1602.7,1798.6 L1607.1,1798.0 L1611.5,1797.4 L1615.8,1796.8 L1620.2,1796.2 L1624.5,1795.6 L1628.9,1795.0 L1633.2,1794.4 L1637.6,1793.8 L1641.9,1793.2 L1646.3,1792.7 L1650.6,1792.1 L1655.0,1791.5 L1659.3,1790.9 L1663.7,1790.3 L1668.0,1789.7 L1672.4,1789.1 L1676.7,1788.5 L1681.1,1787.9 L1685.4,1787.3 L1689.8,1786.7 L1694.2,1786.1 L1698.5,1785.5 L1702.9,1784.9 L1707.2,1784.3 L1711.6,1783.7 L1715.9,1783.1 L1720.3,1782.5 L1724.6,1781.9 L1729.0,1781.3 L1733.3,1780.7 L1737.7,1780.1 L1742.0,1779.5 L1746.4,1778.9 L1750.7,1778.3 L1755.1,1777.6 L1759.4,1777.0 L1763.8,1776.4 L1768.1,1775.8 L1772.5,1775.2 L1776.8,1774.6 L1781.2,1774.0 L1785.5,1773.4 L1789.9,1772.8 L1794.2,1772.2 L1798.6,1771.6 L1802.9,1771.0 L1807.3,1770.3 L1811.6,1769.7 L1816.0,1769.1 L1820.3,1768.5 L1824.7,1767.9 L1829.0,1767.3 L1833.4,1766.7 L1837.7,1766.1 L1842.1,1765.4 L1846.4,1764.8 L1850.8,1764.2 L1855.1,1763.6 L1859.5,1763.0 L1863.8,1762.4 L1868.2,1761.7 L1872.5,1761.1 L1876.9,1760.5 L1881.2,1759.9 L1885.6,1759.3 L1889.9,1758.7 L1894.3,1758.0 L1898.6,1757.4 L1903.0,1756.8 L1907.3,1756.2 L1911.7,1755.6 L1916.0,1754.9 L1920.4,1754.3 L1924.7,1753.7 L1929.1,1753.1 L1933.4,1752.4 L1937.8,1751.8 L1942.1,1751.2 L1946.5,1750.6 L1950.8,1749.9 L1955.2,1749.3 L1959.5,1748.7 L1963.9,1748.1 L1968.2,1747.4 L1972.6,1746.8 L1976.9,1746.2 L1981.3,1745.6 L1985.6,1744.9 L1990.0,1744.3" fill="none" stroke="#000" stroke-width="6.2" stroke-linejoin="round" stroke-linecap="butt"/>
<text x="57.40" y="431.67" font-size="37.75" fill="#000" textLength="133.99" lengthAdjust="spacingAndGlyphs">cos phi</text>
<text x="93.12" y="479.20" font-size="39.85" fill="#000" textLength="58.19" lengthAdjust="spacingAndGlyphs">eta</text>
<text x="163.19" y="683.51" font-size="39.29" fill="#000" textLength="59.44" lengthAdjust="spacingAndGlyphs">0.8</text>
<text x="163.19" y="867.41" font-size="39.43" fill="#000" textLength="59.44" lengthAdjust="spacingAndGlyphs">0.6</text>
<text x="163.21" y="1047.41" font-size="39.43" fill="#000" textLength="58.76" lengthAdjust="spacingAndGlyphs">0.4</text>
<text x="163.18" y="1231.31" font-size="39.29" fill="#000" textLength="59.78" lengthAdjust="spacingAndGlyphs">0.2</text>
<text x="163.20" y="1411.51" font-size="39.43" fill="#000" textLength="59.21" lengthAdjust="spacingAndGlyphs">0.0</text>
<text x="238.11" y="1451.60" font-size="39.58" fill="#000" textLength="23.33" lengthAdjust="spacingAndGlyphs">0</text>
<text x="415.36" y="1452.00" font-size="40.14" fill="#000" textLength="23.67" lengthAdjust="spacingAndGlyphs">2</text>
<text x="592.67" y="1452.00" font-size="40.73" fill="#000" textLength="24.01" lengthAdjust="spacingAndGlyphs">4</text>
<text x="770.11" y="1451.60" font-size="39.58" fill="#000" textLength="23.33" lengthAdjust="spacingAndGlyphs">6</text>
<text x="947.64" y="1451.60" font-size="39.58" fill="#000" textLength="23.33" lengthAdjust="spacingAndGlyphs">8</text>
<text x="1115.94" y="1451.60" font-size="39.58" fill="#000" textLength="45.78" lengthAdjust="spacingAndGlyphs">10</text>
<text x="1293.23" y="1452.00" font-size="40.14" fill="#000" textLength="46.44" lengthAdjust="spacingAndGlyphs">12</text>
<text x="1469.78" y="1452.00" font-size="40.73" fill="#000" textLength="47.11" lengthAdjust="spacingAndGlyphs">14</text>
<text x="1648.15" y="1451.60" font-size="39.58" fill="#000" textLength="45.78" lengthAdjust="spacingAndGlyphs">16</text>
<text x="1825.52" y="1451.60" font-size="39.58" fill="#000" textLength="45.78" lengthAdjust="spacingAndGlyphs">18</text>
<text x="2038.35" y="1451.83" font-size="38.39" fill="#000" textLength="154.10" lengthAdjust="spacingAndGlyphs">P2 [кВт]</text>
<text x="2231.66" y="683.51" font-size="39.29" fill="#000" textLength="46.51" lengthAdjust="spacingAndGlyphs">40</text>
<text x="2231.01" y="867.41" font-size="39.43" fill="#000" textLength="47.18" lengthAdjust="spacingAndGlyphs">30</text>
<text x="2230.45" y="1047.41" font-size="39.43" fill="#000" textLength="47.76" lengthAdjust="spacingAndGlyphs">20</text>
<text x="2233.49" y="1231.31" font-size="39.29" fill="#000" textLength="44.61" lengthAdjust="spacingAndGlyphs">10</text>
<text x="2231.27" y="1411.51" font-size="39.43" fill="#000" textLength="22.60" lengthAdjust="spacingAndGlyphs">0</text>
<defs><linearGradient id="ig" gradientUnits="userSpaceOnUse" x1="2280.7" x2="2287.3" y1="0" y2="0"><stop offset="0" stop-color="#f0a050"/><stop offset="0.12" stop-color="#e07a10"/><stop offset="0.46" stop-color="#c8843c"/><stop offset="0.54" stop-color="#58b6f6"/><stop offset="0.88" stop-color="#48b2ff"/><stop offset="1" stop-color="#9ad4ff"/></linearGradient></defs>
<text x="2274.10" y="431.80" font-size="40.29" fill="url(#ig)" textLength="19.83" lengthAdjust="spacingAndGlyphs">I</text>
<text x="2252.63" y="479.78" font-size="38.18" fill="#000" textLength="53.44" lengthAdjust="spacingAndGlyphs">[A]</text>
<text x="113.01" y="1504.00" font-size="37.21" fill="#000" textLength="23.83" lengthAdjust="spacingAndGlyphs">n</text>
<text x="77.25" y="1551.56" font-size="38.28" fill="#000" textLength="92.72" lengthAdjust="spacingAndGlyphs">[rpm]</text>
<text x="125.73" y="1619.71" font-size="39.43" fill="#000" textLength="96.49" lengthAdjust="spacingAndGlyphs">2800</text>
<text x="125.73" y="1711.80" font-size="39.72" fill="#000" textLength="96.49" lengthAdjust="spacingAndGlyphs">2600</text>
<text x="125.73" y="1799.60" font-size="39.72" fill="#000" textLength="96.49" lengthAdjust="spacingAndGlyphs">2400</text>
<text x="125.73" y="1891.20" font-size="39.72" fill="#000" textLength="96.49" lengthAdjust="spacingAndGlyphs">2200</text>
<text x="125.73" y="1979.30" font-size="39.72" fill="#000" textLength="96.49" lengthAdjust="spacingAndGlyphs">2000</text>
<text x="2273.71" y="1503.50" font-size="38.98" fill="#000" textLength="47.36" lengthAdjust="spacingAndGlyphs">P1</text>
<text x="2252.99" y="1551.59" font-size="37.64" fill="#000" textLength="89.41" lengthAdjust="spacingAndGlyphs">[кВт]</text>
<text x="2232.58" y="1619.71" font-size="39.43" fill="#000" textLength="45.34" lengthAdjust="spacingAndGlyphs">40</text>
<text x="2231.95" y="1711.80" font-size="39.72" fill="#000" textLength="46.00" lengthAdjust="spacingAndGlyphs">30</text>
<text x="2231.41" y="1799.60" font-size="39.72" fill="#000" textLength="46.56" lengthAdjust="spacingAndGlyphs">20</text>
<text x="2234.37" y="1891.20" font-size="39.72" fill="#000" textLength="43.49" lengthAdjust="spacingAndGlyphs">10</text>
<text x="2231.27" y="1979.30" font-size="39.72" fill="#000" textLength="22.60" lengthAdjust="spacingAndGlyphs">0</text>
<text x="1952.00" y="611.83" font-size="38.39" fill="#588dca" textLength="134.51" lengthAdjust="spacingAndGlyphs" stroke="#fff" stroke-width="0.9">cos phi</text>
<text x="2012.50" y="623.90" font-size="40.44" fill="#2a5ea6" textLength="11.11" lengthAdjust="spacingAndGlyphs">I</text>
<text x="1986.95" y="731.39" font-size="40.76" fill="#000" textLength="57.16" lengthAdjust="spacingAndGlyphs">eta</text>
<text x="1975.12" y="1611.30" font-size="34.79" fill="#1b57a3" textLength="23.69" lengthAdjust="spacingAndGlyphs">n</text>
<text x="1958.27" y="1731.30" font-size="39.27" fill="#000" textLength="47.92" lengthAdjust="spacingAndGlyphs">P1</text>
<text x="263.13" y="443.89" font-size="41.41" fill="#000" textLength="394.67" lengthAdjust="spacingAndGlyphs">SP17-23N + MS6000</text>
<text x="693.02" y="443.21" font-size="39.18" fill="#000" textLength="116.35" lengthAdjust="spacingAndGlyphs">13 kW</text>
<text x="842.90" y="443.29" font-size="40.85" fill="#000" textLength="282.73" lengthAdjust="spacingAndGlyphs">3*400 V, 50 Hz</text>
<text class="dj" x="1562.21" y="446.33" font-size="45.65" fill="#fff" textLength="611.35" lengthAdjust="spacingAndGlyphs">Характеристики двигателя</text>
</svg>
</body></html>
